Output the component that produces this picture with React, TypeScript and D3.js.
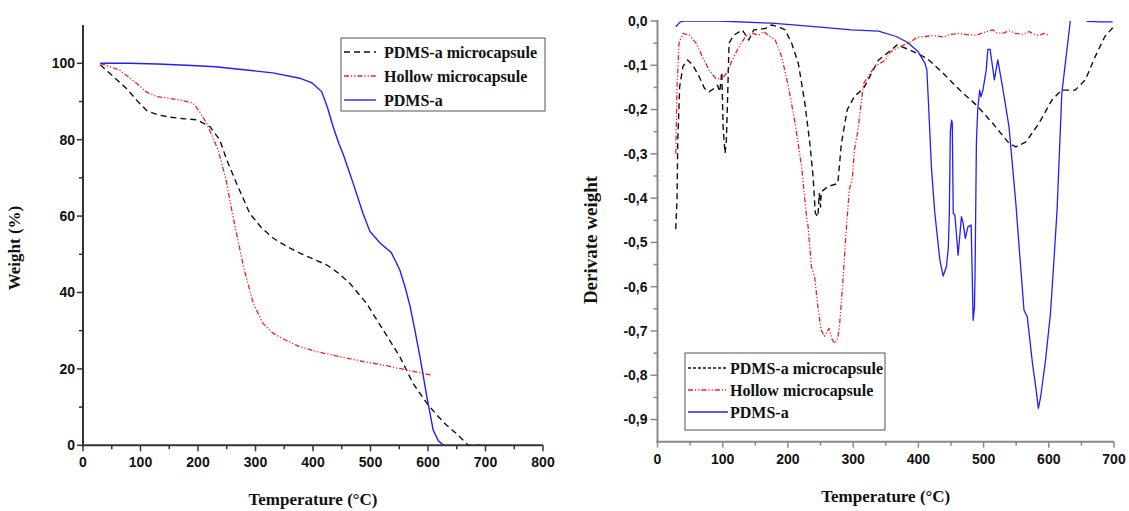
import * as d3 from "d3";
import React from "react";

// TGA (left panel): [temperature °C, weight %]
const tgaPdmsMicro: [number, number][] = [
  [30, 99.6], [53, 96.5], [75, 93.5], [93, 90.4], [111, 87.6], [130, 86.5], [151, 85.9],
  [175, 85.5], [198, 85.2], [221, 83.4], [238, 79.9], [250, 74.7], [267, 68.6], [290, 60.7],
  [310, 57], [331, 54.2], [355, 52], [377, 50.3], [400, 48.8], [424, 47.2], [445, 45],
  [464, 42.4], [493, 37.2], [522, 30.2], [551, 23.2], [574, 16.2], [598, 11], [615, 8],
  [632, 5.3], [650, 3], [670, 0], [700, 0],
];
const tgaHollow: [number, number][] = [
  [30, 100], [64, 98.2], [93, 94.8], [110, 92.5], [128, 91.3], [150, 90.8], [169, 90.4],
  [192, 89.5], [203, 87.3], [215, 84.3], [235, 77.3], [248, 70], [261, 59.8], [279, 46.8],
  [296, 37.2], [313, 31.9], [331, 29.3], [350, 27.7], [377, 25.8], [410, 24.4], [447, 23.2],
  [485, 22], [522, 21], [560, 19.8], [605, 18.4],
];
const tgaPdms: [number, number][] = [
  [30, 100], [80, 100], [130, 99.8], [180, 99.5], [230, 99.1], [280, 98.3], [330, 97.5],
  [377, 96.1], [398, 94.9], [415, 92.6], [425, 88.5], [435, 83.4], [445, 79], [453, 76],
  [470, 68.5], [487, 60.7], [499, 56], [517, 52.9], [536, 50.5], [551, 45.9], [560, 41.5],
  [569, 36.3], [578, 29.5], [586, 23.2], [598, 12.7], [609, 4], [618, 1.2], [627, 0], [630, 0],
];

// DTG (right panel): [temperature °C, derivate weight]
const dtgPdmsMicro: [number, number][] = [
  [28, -0.47], [30, -0.4], [31, -0.276], [34, -0.148], [39, -0.103], [46, -0.088], [54, -0.099],
  [64, -0.126], [72, -0.152], [79, -0.16], [87, -0.152], [92, -0.145], [95.5, -0.16],
  [98.6, -0.115], [100.6, -0.239], [103.6, -0.299], [105.6, -0.269], [107, -0.201],
  [109.7, -0.05], [117, -0.032], [130, -0.02], [140, -0.043], [147.6, -0.02], [165, -0.017],
  [175, -0.009], [185.5, -0.013], [195.7, -0.02], [205.7, -0.05], [216, -0.096], [226, -0.186],
  [233.6, -0.276], [238.6, -0.352], [242, -0.434], [246, -0.442], [248, -0.39], [250, -0.42],
  [251, -0.386], [261, -0.374], [276.5, -0.367], [282, -0.276], [291, -0.2], [302, -0.17],
  [316, -0.152], [339, -0.088], [352, -0.073], [367.5, -0.054], [388, -0.066], [413, -0.084],
  [438, -0.118], [463.5, -0.156], [489, -0.19], [514, -0.231], [539, -0.276], [549.5, -0.284],
  [565, -0.273], [585, -0.231], [605, -0.178], [620, -0.156], [640.5, -0.156], [656, -0.133],
  [671, -0.081], [686, -0.035], [700, -0.012],
];
const dtgHollow: [number, number][] = [
  [28, -0.3], [30, -0.148], [33, -0.05], [39, -0.028], [49, -0.032], [59, -0.05], [69, -0.081],
  [79, -0.111], [89.5, -0.13], [99.5, -0.13], [107, -0.115], [114.7, -0.088], [125, -0.058],
  [135, -0.035], [145, -0.028], [155, -0.032], [163, -0.024], [170, -0.032], [180.5, -0.043],
  [190.5, -0.081], [200.7, -0.148], [211, -0.231], [221, -0.33], [228.5, -0.442], [231, -0.465],
  [236, -0.555], [241, -0.578], [246, -0.646], [251, -0.698], [256, -0.712], [263, -0.694],
  [268, -0.72], [272, -0.728], [276, -0.718], [279, -0.691], [284, -0.593], [289, -0.48],
  [294, -0.382], [299, -0.352], [302, -0.291], [307, -0.25], [316, -0.141], [333, -0.103],
  [349.6, -0.088], [357, -0.07], [372, -0.058], [385, -0.05], [398, -0.037], [410, -0.035],
  [423, -0.033], [438, -0.036], [450, -0.03], [463, -0.028], [475, -0.031], [489, -0.032],
  [500, -0.026], [514, -0.02], [521, -0.027], [529, -0.028], [540, -0.022], [549, -0.028],
  [560, -0.03], [570, -0.024], [578, -0.03], [585, -0.032], [593, -0.028], [600, -0.032],
];
const dtgPdms: [number, number][] = [
  [28, -0.013], [35, -0.002], [40, 0], [95, 0], [175, -0.005], [250, -0.014], [297, -0.02],
  [339, -0.023], [366, -0.035], [383, -0.048], [399.5, -0.069], [410, -0.095], [413, -0.11],
  [416, -0.2], [420, -0.33], [425, -0.43], [428, -0.472], [433, -0.54], [438, -0.576],
  [443, -0.555], [446, -0.51], [447.5, -0.434], [449, -0.25], [451, -0.224], [452, -0.23],
  [453.5, -0.434], [456, -0.438], [461, -0.529], [466, -0.442], [468.7, -0.457], [472, -0.491],
  [476, -0.465], [481, -0.461], [484, -0.676], [486, -0.646], [487, -0.563], [489, -0.276],
  [491, -0.201], [494, -0.156], [496, -0.171], [499, -0.156], [504, -0.111], [506.6, -0.064],
  [510, -0.064], [516.6, -0.133], [521.8, -0.088], [529, -0.148], [539, -0.239], [549.5, -0.412],
  [554.5, -0.51], [562, -0.653], [567, -0.668], [575, -0.773], [580, -0.826], [584, -0.875],
  [587.5, -0.849], [595, -0.766], [602.6, -0.66], [607.6, -0.547], [612.7, -0.427], [620, -0.163],
  [633, 0], [640, 0.04], [655, 0.03], [659, -0.001], [680, -0.002], [698, -0.002],
];

const leftXTicks = [0, 100, 200, 300, 400, 500, 600, 700, 800];
const leftYTicks = [0, 20, 40, 60, 80, 100];
const rightXTicks = [0, 100, 200, 300, 400, 500, 600, 700];
const rightYTicks = [0, -0.1, -0.2, -0.3, -0.4, -0.5, -0.6, -0.7, -0.8, -0.9];
const seriesNames = ["PDMS-a microcapsule", "Hollow microcapsule", "PDMS-a"];

const BLACK_DASH = "6,4";
const RED_DASH = "5,2,1.2,2,1.2,2";
const tickFont = "'Liberation Sans', Arial, sans-serif";
const serif = "'Liberation Serif', 'Times New Roman', serif";

const styles = [
  { stroke: "#111", dash: BLACK_DASH, w: 1.4 },
  { stroke: "#ff1a1a", dash: RED_DASH, w: 1.3 },
  { stroke: "#1f1fff", dash: undefined, w: 1.4 },
];

export default function App() {
  // left panel scales
  const xL = d3.scaleLinear().domain([0, 800]).range([83, 543]);
  const yL = d3.scaleLinear().domain([0, 110]).range([445.3, 25.1]);
  // right panel scales
  const xR = d3.scaleLinear().domain([0, 700]).range([657.5, 1114]);
  const yR = d3.scaleLinear().domain([-0.95, 0]).range([441.7, 21]);

  const lineL = d3.line<[number, number]>().x(d => xL(d[0])).y(d => yL(d[1]));
  const lineR = d3.line<[number, number]>().x(d => xR(d[0])).y(d => yR(d[1]));

  const leftAxis = "#333";
  const rightAxis = "#8a8a8a";
  const fmt = (v: number) => (v < -1e-9 ? "-" : "") + Math.abs(v).toFixed(1).replace(".", ",");

  const leftMinorX = d3.range(50, 800, 100);
  const leftMinorY = [10, 30, 50, 70, 90];
  const rightMinorX = d3.range(50, 700, 100);
  const rightMinorY = d3.range(-0.05, -0.9, -0.1);

  const tgaSeries = [tgaPdmsMicro, tgaHollow, tgaPdms];
  const dtgSeries = [dtgPdmsMicro, dtgHollow, dtgPdms];

  return (
    <svg width={1129} height={511} style={{ position: "absolute", left: 0, top: 0, background: "#fff" }}>
      <defs>
        <clipPath id="clipR">
          <rect x={xR(0)} y={yR(0)} width={xR(700) - xR(0) + 2} height={yR(-0.95) - yR(0)} />
        </clipPath>
      </defs>

      {/* ---------- LEFT PANEL (TGA) ---------- */}
      <g>
        {tgaSeries.map((s, i) => (
          <path key={i} d={lineL(s) || ""} fill="none" stroke={styles[i].stroke}
            strokeWidth={styles[i].w} strokeDasharray={styles[i].dash} />
        ))}
        <line x1={xL(0)} x2={xL(0)} y1={yL(110)} y2={yL(0) + 1} stroke={leftAxis} strokeWidth={2} />
        <line x1={xL(0) - 1} x2={xL(800)} y1={yL(0)} y2={yL(0)} stroke={leftAxis} strokeWidth={2} />
        {leftYTicks.map(t => (
          <g key={t}>
            <line x1={xL(0) - 6} x2={xL(0)} y1={yL(t)} y2={yL(t)} stroke={leftAxis} strokeWidth={1.5} />
            <text x={xL(0) - 8} y={yL(t)} dy="0.35em" textAnchor="end" fontFamily={tickFont}
              fontWeight="bold" fontSize={14} fill="#111">{t}</text>
          </g>
        ))}
        {leftMinorY.map(t => (
          <line key={t} x1={xL(0) - 4} x2={xL(0)} y1={yL(t)} y2={yL(t)} stroke={leftAxis} strokeWidth={1.5} />
        ))}
        {leftXTicks.map(t => (
          <g key={t}>
            <line x1={xL(t)} x2={xL(t)} y1={yL(0)} y2={yL(0) + 6} stroke={leftAxis} strokeWidth={1.5} />
            <text x={xL(t)} y={yL(0) + 22} textAnchor="middle" fontFamily={tickFont}
              fontWeight="bold" fontSize={14} fill="#111">{t}</text>
          </g>
        ))}
        {leftMinorX.map(t => (
          <line key={t} x1={xL(t)} x2={xL(t)} y1={yL(0)} y2={yL(0) + 4} stroke={leftAxis} strokeWidth={1.5} />
        ))}
        <text x={(xL(0) + xL(800)) / 2} y={505} textAnchor="middle" fontFamily={serif}
          fontWeight="bold" fontSize={17} fill="#111">Temperature (°C)</text>
        <text transform="translate(20,248) rotate(-90)" textAnchor="middle" fontFamily={serif}
          fontWeight="bold" fontSize={17} fill="#111">Weight (%)</text>

        {/* legend */}
        <rect x={341} y={38} width={204} height={73} fill="#fff" stroke="#555" strokeWidth={1} />
        {seriesNames.map((n, i) => (
          <g key={n}>
            <line x1={344} x2={376} y1={52 + i * 24} y2={52 + i * 24} stroke={styles[i].stroke}
              strokeWidth={styles[i].w} strokeDasharray={styles[i].dash} />
            <text x={384} y={52 + i * 24} dy="0.35em" fontFamily={serif} fontWeight="bold"
              fontSize={16} fill="#111">{n}</text>
          </g>
        ))}
      </g>

      {/* ---------- RIGHT PANEL (DTG) ---------- */}
      <g>
        <g clipPath="url(#clipR)">
          {dtgSeries.map((s, i) => (
            <path key={i} d={lineR(s) || ""} fill="none" stroke={styles[i].stroke}
              strokeWidth={i === 2 ? 1.3 : styles[i].w} strokeDasharray={styles[i].dash}
              strokeLinejoin="round" />
          ))}
        </g>
        <line x1={xR(0)} x2={xR(0)} y1={yR(0) - 1} y2={yR(-0.95) + 1} stroke={rightAxis} strokeWidth={2} />
        <line x1={xR(0) - 1} x2={xR(700)} y1={yR(-0.95)} y2={yR(-0.95)} stroke={rightAxis} strokeWidth={2} />
        {rightYTicks.map(t => (
          <g key={t}>
            <line x1={xR(0) - 7} x2={xR(0)} y1={yR(t)} y2={yR(t)} stroke={rightAxis} strokeWidth={1.5} />
            <text x={xR(0) - 10} y={yR(t)} dy="0.35em" textAnchor="end" fontFamily={tickFont}
              fontWeight="bold" fontSize={14} fill="#111">{fmt(t)}</text>
          </g>
        ))}
        {rightMinorY.map(t => (
          <line key={t} x1={xR(0) - 4} x2={xR(0)} y1={yR(t)} y2={yR(t)} stroke={rightAxis} strokeWidth={1.5} />
        ))}
        {rightXTicks.map(t => (
          <g key={t}>
            <line x1={xR(t)} x2={xR(t)} y1={yR(-0.95)} y2={yR(-0.95) + 6} stroke={rightAxis} strokeWidth={1.5} />
            <text x={xR(t)} y={yR(-0.95) + 22} textAnchor="middle" fontFamily={tickFont}
              fontWeight="bold" fontSize={14} fill="#111">{t}</text>
          </g>
        ))}
        {rightMinorX.map(t => (
          <line key={t} x1={xR(t)} x2={xR(t)} y1={yR(-0.95)} y2={yR(-0.95) + 4} stroke={rightAxis} strokeWidth={1.5} />
        ))}
        <text x={(xR(0) + xR(700)) / 2} y={502} textAnchor="middle" fontFamily={serif}
          fontWeight="bold" fontSize={17} fill="#111">Temperature (°C)</text>
        <text transform="translate(597,240) rotate(-90)" textAnchor="middle" fontFamily={serif}
          fontWeight="bold" fontSize={19} fill="#111">Derivate weight</text>

        {/* legend */}
        <rect x={685} y={353} width={200} height={77} fill="#fff" stroke="#555" strokeWidth={1} />
        {seriesNames.map((n, i) => (
          <g key={n}>
            <line x1={688} x2={728} y1={368 + i * 22} y2={368 + i * 22} stroke={styles[i].stroke}
              strokeWidth={styles[i].w} strokeDasharray={i === 0 ? "3,2" : styles[i].dash} />
            <text x={730} y={368 + i * 22} dy="0.35em" fontFamily={serif} fontWeight="bold"
              fontSize={16} fill="#111">{n}</text>
          </g>
        ))}
      </g>
    </svg>
  );
}
